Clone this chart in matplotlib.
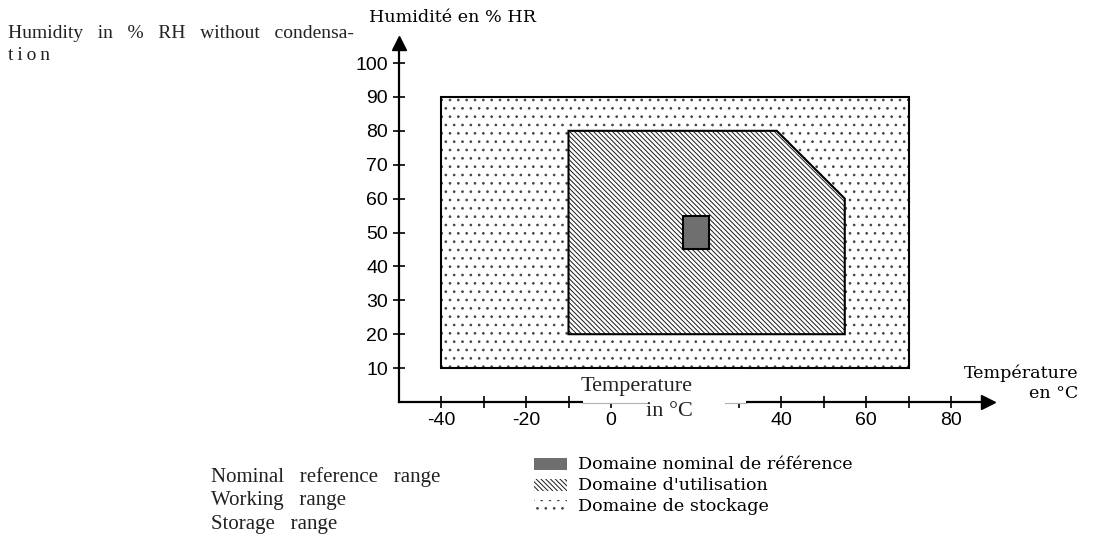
import matplotlib
matplotlib.use('Agg')
import matplotlib.pyplot as plt
from matplotlib.patches import Rectangle, Polygon

# ---------------- data ----------------
storage_temp = [-40, 70]          # storage range, degC
storage_hum = [10, 90]            # storage range, %RH
working_temp = [-10, -10, 39, 55, 55]   # working range polygon (degC)
working_hum = [20, 80, 80, 60, 20]      # working range polygon (%RH)
nominal_temp = [17, 23]           # nominal reference range, degC
nominal_hum = [45, 55]            # nominal reference range, %RH

x_ticks = [-40, -30, -20, -10, 0, 10, 20, 30, 40, 50, 60, 70, 80]
x_ticklabels = ['-40', '', '-20', '', '0', '', '', '', '40', '', '60', '', '80']  # "20" hidden by overlay
y_ticks = [10, 20, 30, 40, 50, 60, 70, 80, 90, 100]
y_ticklabels = ['10', '20', '30', '40', '50', '60', '70', '80', '90', '100']

legend_fr = ["Domaine nominal de référence", "Domaine d'utilisation", "Domaine de stockage"]
legend_en = ["Nominal   reference   range", "Working   range", "Storage   range"]

# ---------------- figure ----------------
W, H = 1095, 545
plt.rcParams['hatch.linewidth'] = 0.7
fig = plt.figure(figsize=(W / 100, H / 100), dpi=100)
fig.patch.set_facecolor('white')

def fx(x):
    return x / W

def fy(y):
    return 1 - y / H

ax = fig.add_axes([fx(398.5), fy(402), 589.5 / W, 359.3 / H])
ax.set_xlim(-50, 88.7)
ax.set_ylim(0, 106)
ax.set_facecolor('none')
for s in ['top', 'right']:
    ax.spines[s].set_visible(False)
for s in ['left', 'bottom']:
    ax.spines[s].set_linewidth(1.6)
    ax.spines[s].set_zorder(5)

tick_font = dict(family=['Liberation Sans Narrow', 'Liberation Sans', 'DejaVu Sans'], size=14)
ax.set_xticks(x_ticks)
ax.set_xticklabels(x_ticklabels, **tick_font)
ax.set_yticks(y_ticks)
ax.set_yticklabels(y_ticklabels, **tick_font)
ax.tick_params(direction='inout', length=9, width=1.2, pad=3, colors='black')

# arrows
ax.plot([1], [0], marker='>', color='black', ms=10, transform=ax.transAxes, clip_on=False, zorder=6)
ax.plot([0], [1], marker='^', color='black', ms=10, transform=ax.transAxes, clip_on=False, zorder=6)

WORK_HATCH = '\\' * 7
DOT_HATCH = '..'

# storage range (grey dots + black outline)
sw = storage_temp[1] - storage_temp[0]
sh = storage_hum[1] - storage_hum[0]
ax.add_patch(Rectangle((storage_temp[0], storage_hum[0]), sw, sh,
                       facecolor='white', edgecolor='#444444', lw=0, hatch=DOT_HATCH, zorder=1))
ax.add_patch(Rectangle((storage_temp[0], storage_hum[0]), sw, sh,
                       fill=False, edgecolor='black', lw=1.5, zorder=1.5))
# working range
ax.add_patch(Polygon(list(zip(working_temp, working_hum)), closed=True,
                     facecolor='white', edgecolor='#1a1a1a', lw=0, hatch=WORK_HATCH, zorder=2))
ax.add_patch(Polygon(list(zip(working_temp, working_hum)), closed=True,
                     fill=False, edgecolor='black', lw=1.5, zorder=2.5))
# nominal range
ax.add_patch(Rectangle((nominal_temp[0], nominal_hum[0]),
                       nominal_temp[1] - nominal_temp[0], nominal_hum[1] - nominal_hum[0],
                       facecolor='#6f6f6f', edgecolor='black', lw=1.5, zorder=3))

fr_font = dict(family=['DejaVu Serif'], size=12.6, color='black')
en_font = dict(family=['Liberation Serif'], color='#222222')

# axis titles (French)
fig.text(fx(369), fy(18), "Humidité en % HR", ha='left', va='center', **fr_font)
fig.text(fx(1078), fy(373), "Température", ha='right', va='center', **fr_font)
fig.text(fx(1078), fy(393), "en °C", ha='right', va='center', **fr_font)

# English overlay for y axis title
fig.text(fx(8), fy(33), "Humidity   in   %   RH   without   condensa-", ha='left', va='center', size=14, **en_font)
fig.text(fx(8), fy(56), "t\u2009i\u2009o\u2009n", ha='left', va='center', size=14, **en_font)

# English overlay for x axis title, with white boxes
fig.add_artist(Rectangle((fx(583), fy(403.5)), fx(746) - fx(583), fy(368.5) - fy(403.5),
                         transform=fig.transFigure, facecolor='white', edgecolor='none', zorder=10))
fig.add_artist(Rectangle((fx(648), fy(428)), fx(725) - fx(648), fy(403) - fy(428),
                         transform=fig.transFigure, facecolor='white', edgecolor='none', zorder=10))
fig.add_artist(plt.Line2D([fx(583), fx(648)], [fy(402.5), fy(402.5)], transform=fig.transFigure,
                          color='#b0b0b0', lw=0.8, zorder=11))
fig.add_artist(plt.Line2D([fx(725), fx(746)], [fy(402.5), fy(402.5)], transform=fig.transFigure,
                          color='#b0b0b0', lw=0.8, zorder=11))
fig.text(fx(693), fy(386), "Temperature", ha='right', va='center', size=16, zorder=12, **en_font)
fig.text(fx(693), fy(412), "in °C", ha='right', va='center', size=16, zorder=12, **en_font)

# legend (French) with swatches
sw_y = [458, 479, 500]
styles = [dict(facecolor='#6f6f6f', edgecolor='#6f6f6f', hatch=None),
          dict(facecolor='white', edgecolor='#1a1a1a', hatch=WORK_HATCH),
          dict(facecolor='white', edgecolor='#444444', hatch=DOT_HATCH)]
for i, (lab, st) in enumerate(zip(legend_fr, styles)):
    y0 = sw_y[i]
    fig.add_artist(Rectangle((fx(534), fy(y0 + 12)), fx(567) - fx(534), fy(y0) - fy(y0 + 12),
                             transform=fig.transFigure, lw=0, **st))
    fig.text(fx(578), fy(y0 + 6.5), lab, ha='left', va='center', **fr_font)

# legend (English)
en_y = [477, 501, 525]
for lab, y in zip(legend_en, en_y):
    fig.text(fx(211), fy(y), lab, ha='left', va='center', size=15, **en_font)

fig.savefig('out.png', dpi=100, facecolor='white')
